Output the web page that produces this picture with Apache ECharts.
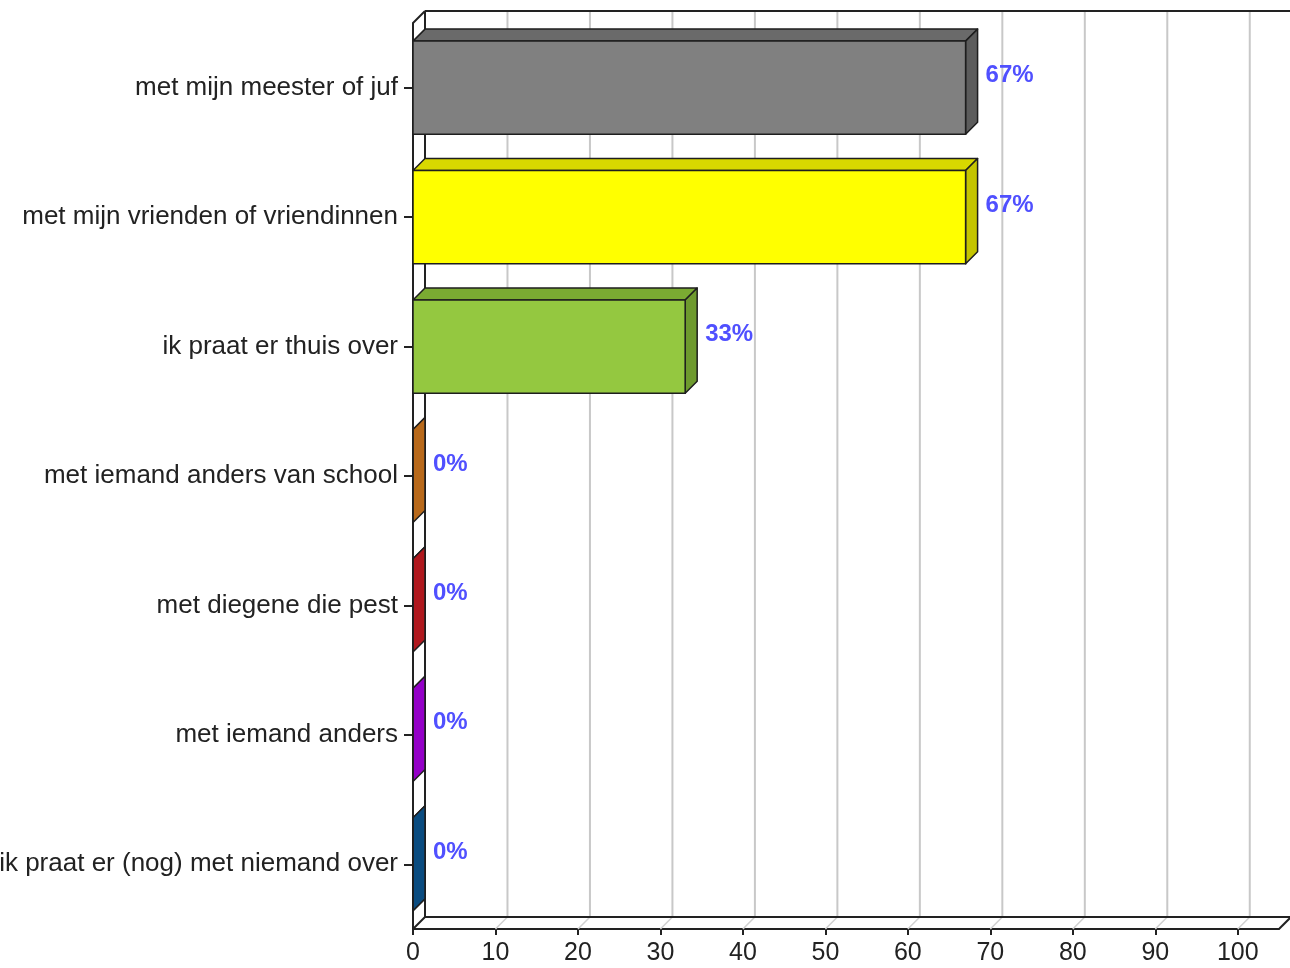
<!DOCTYPE html>
<html><head><meta charset="utf-8">
<script src="https://cdn.jsdelivr.net/npm/echarts@6/dist/echarts.min.js"></script>
<style>html,body{margin:0;padding:0;background:#fff}#c{width:1290px;height:968px}</style>
</head><body><div id="c"></div>
<script>
const categories = [
  'met mijn meester of juf',
  'met mijn vrienden of vriendinnen',
  'ik praat er thuis over',
  'met iemand anders van school',
  'met diegene die pest',
  'met iemand anders',
  'ik praat er (nog) met niemand over'
];
const values = [67, 67, 33, 0, 0, 0, 0];
const xTicks = [0, 10, 20, 30, 40, 50, 60, 70, 80, 90, 100];

const frontColors = ['#808080', '#ffff00', '#94c840', '#c0701a', '#b0161e', '#9a00cc', '#0b4f86'];
const topColors   = ['#6a6a6a', '#d8d800', '#7aaa32', '#a85f14', '#981218', '#8200ae', '#0a4474'];
const sideColors  = ['#5c5c5c', '#c4c400', '#6e9a2e', '#b8691a', '#b0181e', '#9400c8', '#0a4c80'];

const D = 12;
const FONT = 'Liberation Sans, Arial, sans-serif';
const chart = echarts.init(document.getElementById('c'), null, {renderer: 'canvas'});

function frameItem(params, api) {
  const cs = params.coordSys;
  const x0 = cs.x, y0 = cs.y, x1 = cs.x + cs.width, yb = cs.y + cs.height;
  const black = {stroke: '#222', lineWidth: 2, fill: null};
  const els = [];
  xTicks.forEach(function (v) {
    const xv = api.coord([v, 0])[0];
    if (v !== 0) {
      els.push({type: 'line', shape: {x1: xv + D, y1: y0 - D, x2: xv + D, y2: yb - D},
        style: {stroke: '#c8c8c8', lineWidth: 2}});
      els.push({type: 'line', shape: {x1: xv, y1: yb, x2: xv + D, y2: yb - D},
        style: {stroke: '#d0d0d0', lineWidth: 1.5}});
    }
  });
  els.push({type: 'line', shape: {x1: x0 + D, y1: y0 - D, x2: x1 + D + 2, y2: y0 - D}, style: black});
  els.push({type: 'line', shape: {x1: x0 + D, y1: y0 - D, x2: x0 + D, y2: yb - D}, style: black});
  els.push({type: 'line', shape: {x1: x0 + D, y1: yb - D, x2: x1 + D, y2: yb - D}, style: black});
  els.push({type: 'line', shape: {x1: x0, y1: y0, x2: x0 + D, y2: y0 - D}, style: black});
  els.push({type: 'line', shape: {x1: x0, y1: yb, x2: x0 + D, y2: yb - D}, style: black});
  els.push({type: 'line', shape: {x1: x1, y1: yb, x2: x1 + D, y2: yb - D}, style: black});
  return {type: 'group', children: els};
}

function barItem(params, api) {
  const idx = api.value(1);
  const val = api.value(0);
  const start = api.coord([0, idx]);
  const end = api.coord([val, idx]);
  const bandH = api.size([0, 1])[1];
  const h = bandH * 0.72;
  const yc = start[1];
  const top = yc - h / 2, bottom = yc + h / 2;
  const xL = start[0], xR = end[0];
  const i = params.dataIndex;
  const stroke = '#1e1e1e';
  return {
    type: 'group',
    children: [
      {type: 'polygon', shape: {points: [[xL, top], [xL + D, top - D], [xR + D, top - D], [xR, top]]},
        style: {fill: topColors[i], stroke: stroke, lineWidth: 1.5, lineJoin: 'round'}},
      {type: 'polygon', shape: {points: [[xR, top], [xR + D, top - D], [xR + D, bottom - D], [xR, bottom]]},
        style: {fill: sideColors[i], stroke: stroke, lineWidth: 1.5, lineJoin: 'round'}},
      {type: 'rect', shape: {x: xL, y: top, width: xR - xL, height: h},
        style: {fill: frontColors[i], stroke: stroke, lineWidth: 1.5}},
      {type: 'text', x: xR + D + 8, y: yc - D,
        style: {text: values[i] + '%', fill: '#5050ff', font: 'bold 24px ' + FONT,
          align: 'left', verticalAlign: 'middle'}}
    ]
  };
}

chart.setOption({
  animation: false,
  backgroundColor: '#fff',
  grid: {left: 413, right: 11, top: 23, bottom: 39, containLabel: false, outerBoundsMode: 'none'},
  xAxis: {
    type: 'value', min: 0, max: 105, interval: 10,
    axisLine: {show: true, lineStyle: {color: '#222', width: 2}},
    axisTick: {show: true, length: 6, lineStyle: {color: '#222', width: 2}, customValues: xTicks},
    axisLabel: {color: '#222', fontSize: 25, fontFamily: FONT, margin: 12, customValues: xTicks},
    splitLine: {show: false}
  },
  yAxis: {
    type: 'category', inverse: true, data: categories,
    axisLine: {show: true, lineStyle: {color: '#222', width: 2}},
    axisTick: {show: true, alignWithLabel: true, length: 9, lineStyle: {color: '#222', width: 2}},
    axisLabel: {color: '#222', fontSize: 26, fontFamily: FONT, margin: 15}
  },
  series: [
    {type: 'custom', renderItem: frameItem, data: [[0, 0]], encode: {x: 0, y: 1}, clip: false, z: 1, silent: true},
    {type: 'custom', renderItem: barItem, data: values.map(function (v, i) { return [v, i]; }),
      encode: {x: 0, y: 1}, clip: false, z: 3}
  ]
});
</script></body></html>
